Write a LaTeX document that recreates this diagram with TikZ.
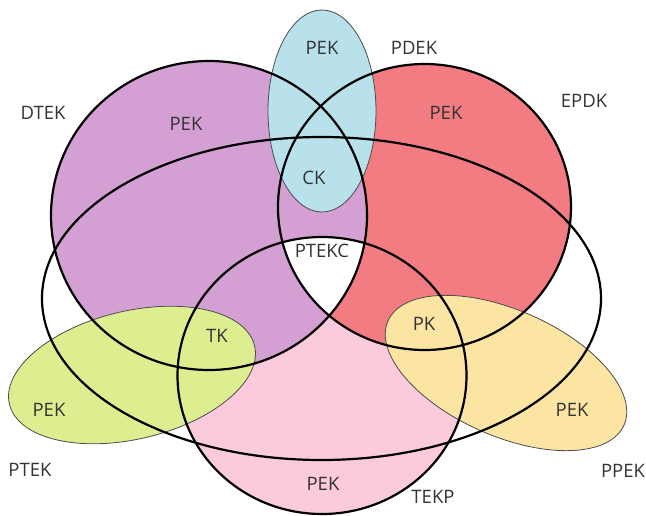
\documentclass[tikz,border=0pt]{standalone}
\usepackage{fontspec}
\setmainfont{Open Sans}
\definecolor{cpurple}{HTML}{D4A0D4}
\definecolor{cred}{HTML}{F27C82}
\definecolor{cblue}{HTML}{B8E1EB}
\definecolor{cpink}{HTML}{FBCADC}
\definecolor{cgreen}{HTML}{DDEE90}
\definecolor{cyellow}{HTML}{FCE4A2}
\definecolor{ctext}{HTML}{333333}
\tikzset{
  thickline/.style={draw=black,line width=2.2pt},
  thinline/.style={draw=black!70,line width=0.8pt},
  lbl/.style={text=ctext,font=\fontsize{18.5}{21}\selectfont,inner sep=0pt},
}
\begin{document}
\begin{tikzpicture}[x=1pt,y=-1pt]
\useasboundingbox (0,0) rectangle (646,515);
% fills
\fill[cpink] (322,375.5) ellipse [x radius=144.5, y radius=138.5];
\fill[cred] (424.5,207) ellipse [x radius=146.5, y radius=143];
\fill[cpurple] (209,215.5) ellipse [x radius=158, y radius=154.5];
\begin{scope}
  \clip (209,215.5) ellipse [x radius=158, y radius=154.5];
  \clip (424.5,207) ellipse [x radius=146.5, y radius=143];
  \fill[white] (322,375.5) ellipse [x radius=144.5, y radius=138.5];
\end{scope}
\fill[cblue] (322,111) ellipse [x radius=54, y radius=101];
\fill[cgreen, rotate around={13.4:(132,375)}] (132,375) ellipse [x radius=126, y radius=64];
\fill[cyellow, rotate around={-23.8:(506,373)}] (506,373) ellipse [x radius=129, y radius=63];
% thin outlines
\draw[thinline] (322,111) ellipse [x radius=54, y radius=101];
\draw[thinline, rotate around={13.4:(132,375)}] (132,375) ellipse [x radius=126, y radius=64];
\draw[thinline, rotate around={-23.8:(506,373)}] (506,373) ellipse [x radius=129, y radius=63];
% thick outlines
\draw[thickline] (321.5,298.5) ellipse [x radius=279.5, y radius=161.5];
\draw[thickline] (209,215.5) ellipse [x radius=158, y radius=154.5];
\draw[thickline] (424.5,207) ellipse [x radius=146.5, y radius=143];
\draw[thickline] (322,375.5) ellipse [x radius=144.5, y radius=138.5];
% labels
\node[lbl] (pekblue) at (322,48) {PEK};
\node[lbl] (pdek) at (414,48) {PDEK};
\node[lbl] (dtek) at (43,113) {DTEK};
\node[lbl] (pekpurple) at (186,124) {PEK};
\node[lbl] (pekred) at (446,113) {PEK};
\node[lbl] (epdk) at (584,101) {EPDK};
\node[lbl] (ck) at (314,178) {CK};
\node[lbl] (ptekc) at (322,251) {PTEKC};
\node[lbl] (tk) at (217,336) {TK};
\node[lbl] (pk) at (424,324) {PK};
\node[lbl] (pekgreen) at (49,410) {PEK};
\node[lbl] (pekyellow) at (572,410) {PEK};
\node[lbl] (ptek) at (30,470) {PTEK};
\node[lbl] (ppek) at (623,471) {PPEK};
\node[lbl] (pekpink) at (323,484) {PEK};
\node[lbl] (tekp) at (433,497) {TEKP};
\end{tikzpicture}
\end{document}
